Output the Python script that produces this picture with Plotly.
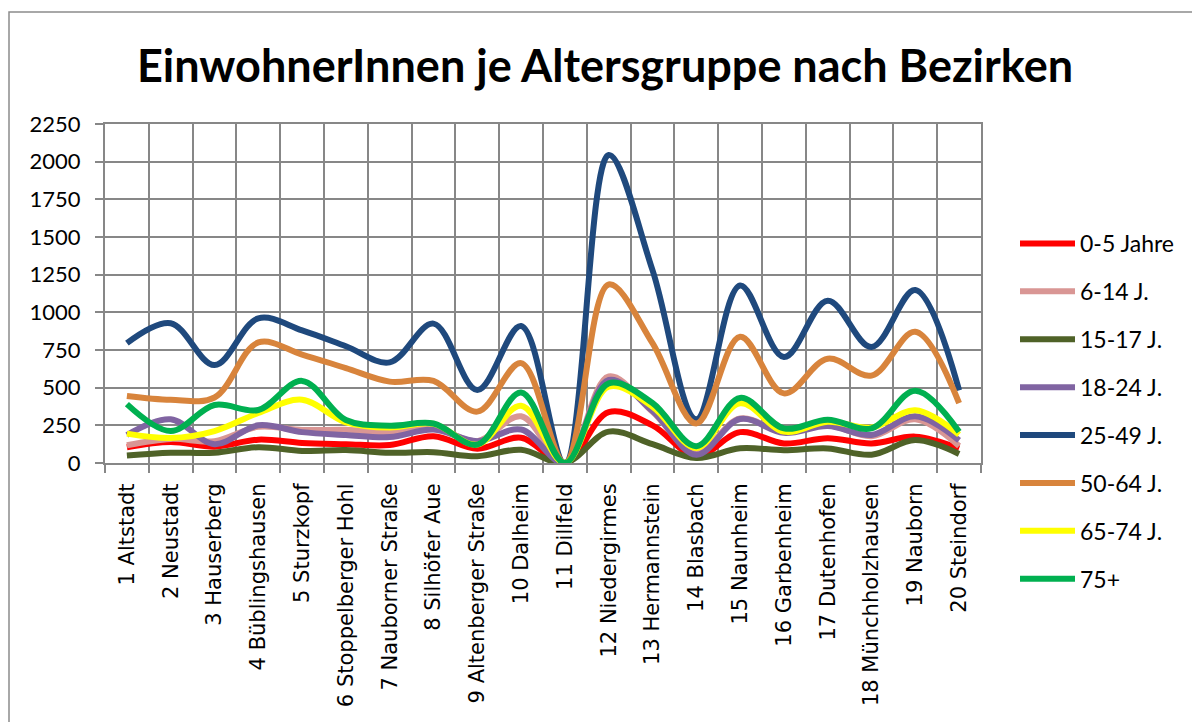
import plotly.graph_objects as go

categories = ["1 Altstadt", "2 Neustadt", "3 Hauserberg", "4 Büblingshausen", "5 Sturzkopf",
              "6 Stoppelberger Hohl", "7 Nauborner Straße", "8 Silhöfer Aue", "9 Altenberger Straße",
              "10 Dalheim", "11 Dillfeld", "12 Niedergirmes", "13 Hermannstein", "14 Blasbach",
              "15 Naunheim", "16 Garbenheim", "17 Dutenhofen", "18 Münchholzhausen", "19 Nauborn",
              "20 Steindorf"]

age_0_5 = [105, 140, 108, 155, 133, 125, 119, 178, 95, 168, 0, 338, 250, 45, 205, 130, 165, 130, 175, 97]
age_6_14 = [118, 160, 145, 240, 219, 220, 205, 235, 145, 310, 0, 575, 340, 70, 295, 205, 250, 178, 290, 113]
age_15_17 = [50, 68, 68, 105, 80, 86, 68, 72, 45, 88, 0, 208, 125, 33, 98, 85, 97, 55, 152, 60]
age_18_24 = [186, 290, 125, 250, 205, 186, 172, 222, 145, 222, 0, 551, 345, 55, 292, 200, 245, 186, 310, 150]
age_25_49 = [796, 928, 650, 960, 880, 775, 668, 925, 484, 909, 0, 2044, 1280, 290, 1178, 703, 1077, 770, 1148, 482]
age_50_64 = [445, 420, 435, 800, 720, 630, 540, 545, 341, 663, 0, 1185, 795, 262, 838, 462, 692, 580, 871, 397]
age_65_74 = [195, 166, 212, 332, 420, 270, 235, 260, 122, 380, 0, 506, 374, 100, 397, 208, 274, 235, 350, 188]
age_75 = [391, 212, 385, 352, 545, 285, 248, 262, 122, 468, 0, 529, 398, 112, 432, 230, 287, 230, 480, 208]

series_names = ["0-5 Jahre", "6-14 J.", "15-17 J.", "18-24 J.", "25-49 J.", "50-64 J.", "65-74 J.", "75+"]
series_values = [age_0_5, age_6_14, age_15_17, age_18_24, age_25_49, age_50_64, age_65_74, age_75]
series_colors = ["#FF0000", "#D99694", "#4F6228", "#8064A2", "#1F497D", "#D8843C", "#FFFF00", "#00B050"]

fig = go.Figure()
for i, (name, vals, col) in enumerate(zip(series_names, series_values, series_colors)):
    fig.add_trace(go.Scatter(
        x=categories, y=vals, name=name, mode="lines",
        line=dict(color=col, width=6, shape="spline", smoothing=1.0),
        legendgroup=f"g{i}",
    ))

W, H = 1192, 722
L, R, T, B = 105, 981, 124, 463
fig.update_layout(
    width=W, height=H,
    margin=dict(l=L, r=W - R, t=T, b=H - B),
    paper_bgcolor="white", plot_bgcolor="white",
    font=dict(family="Lato, Carlito, sans-serif", color="black"),
    title=dict(text="<b>EinwohnerInnen je Altersgruppe nach Bezirken</b>",
               font=dict(size=45, family="Lato, sans-serif", color="black"),
               x=605 / W, xanchor="center", y=1 - 66 / H, yanchor="middle"),
    showlegend=True,
    legend=dict(x=(1015 - L) / (R - L), xanchor="left", y=(B - 222) / (B - T), yanchor="top",
                font=dict(size=23, family="Lato, sans-serif"), tracegroupgap=15,
                itemwidth=55, bgcolor="rgba(0,0,0,0)", maxheight=600),
    xaxis=dict(type="category", tickson="boundaries", showgrid=True, gridcolor="#878787", gridwidth=2,
               ticks="outside", ticklen=8, tickcolor="#878787", tickwidth=2,
               showline=True, linecolor="#878787", linewidth=2, mirror=True,
               tickangle=-90, tickfont=dict(size=21, family="DejaVu Sans, Verdana, sans-serif"),
               ticklabelstandoff=10,
               range=[-0.5, len(categories) - 0.5]),
    yaxis=dict(range=[0, 2250], dtick=250, showgrid=True, gridcolor="#878787", gridwidth=2,
               ticks="outside", ticklen=8, tickcolor="#878787", tickwidth=2,
               showline=True, linecolor="#878787", linewidth=2, mirror=True,
               zeroline=False, tickfont=dict(size=22, family="Lato, sans-serif"), ticklabelstandoff=10),
)

# outer chart-area border
fig.add_shape(type="rect", xref="paper", yref="paper",
              x0=(9 - L) / (R - L), x1=1.6, y0=-1.5, y1=(B - 12) / (B - T),
              line=dict(color="#8C8C8C", width=1.5), layer="below")

fig.write_html("out.html", config={"displayModeBar": False},
               post_script="document.body.style.margin='0';")
